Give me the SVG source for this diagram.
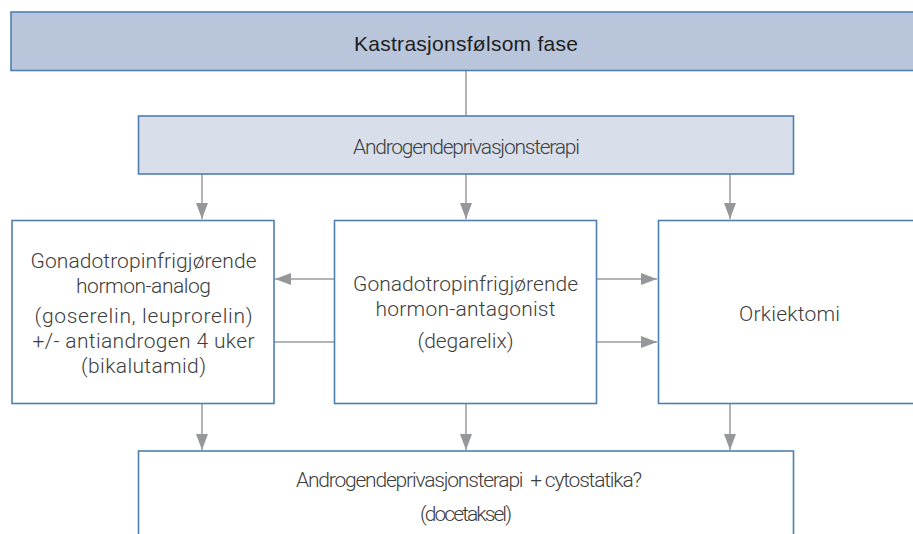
<svg xmlns="http://www.w3.org/2000/svg" width="913" height="534" viewBox="0 0 913 534">
<defs>
<marker id="ah" viewBox="0 0 16 12" refX="16" refY="6" markerWidth="16" markerHeight="12" markerUnits="userSpaceOnUse" orient="auto">
<path d="M0,0 L16,6 L0,12 Z" fill="#96979b"/>
</marker>
<style>
.box{fill:#ffffff;stroke:#4f7fb0;stroke-width:1.6}
.b1{fill:#b9c5da;stroke:#4f7fb0;stroke-width:1.6}
.b2{fill:#d8dfeb;stroke:#4f7fb0;stroke-width:1.6}
.ln{fill:none;stroke:#9a9b9f;stroke-width:1.5}
.t{font-family:Roboto,"Liberation Sans",sans-serif;font-weight:300;font-size:21px;fill:#3d3d3d;text-anchor:middle}
.tt{font-family:"Liberation Sans",Arial,sans-serif;font-weight:400;font-size:21px;fill:#1e1e1e;text-anchor:middle}
</style>
</defs>
<rect width="913" height="534" fill="#ffffff"/>
<g id="connectors">
<line class="ln" x1="466" y1="71" x2="466" y2="116"/>
<line class="ln" x1="202" y1="174" x2="202" y2="219" marker-end="url(#ah)"/>
<line class="ln" x1="466" y1="174" x2="466" y2="219" marker-end="url(#ah)"/>
<line class="ln" x1="730" y1="174" x2="730" y2="219" marker-end="url(#ah)"/>
<line class="ln" x1="334" y1="279" x2="275" y2="279" marker-end="url(#ah)"/>
<line class="ln" x1="274" y1="342" x2="334" y2="342"/>
<line class="ln" x1="597" y1="279" x2="657" y2="279" marker-end="url(#ah)"/>
<line class="ln" x1="597" y1="342" x2="657" y2="342" marker-end="url(#ah)"/>
<line class="ln" x1="202" y1="404" x2="202" y2="450" marker-end="url(#ah)"/>
<line class="ln" x1="466" y1="404" x2="466" y2="450" marker-end="url(#ah)"/>
<line class="ln" x1="730" y1="404" x2="730" y2="450" marker-end="url(#ah)"/>
</g>
<g id="n-kastrasjon">
<rect class="b1" x="11" y="12" width="920" height="58.5"/>
<text class="tt" x="466" y="51" textLength="224">Kastrasjonsfølsom fase</text>
</g>
<g id="n-adt">
<rect class="b2" x="138.5" y="116" width="655" height="58"/>
<text class="t" x="466.5" y="154" textLength="227">Androgendeprivasjonsterapi</text>
</g>
<g id="n-analog">
<rect class="box" x="12" y="220.5" width="262" height="183"/>
<text class="t" x="143.5" y="268" textLength="226">Gonadotropinfrigjørende</text>
<text class="t" x="143.5" y="293" textLength="135">hormon-analog</text>
<text class="t" x="143.5" y="323" textLength="218">(goserelin, leuprorelin)</text>
<text class="t" x="143.5" y="348" textLength="222">+/- antiandrogen 4 uker</text>
<text class="t" x="143.5" y="373" textLength="125">(bikalutamid)</text>
</g>
<g id="n-antagonist">
<rect class="box" x="334.5" y="220.5" width="262" height="183"/>
<text class="t" x="465.5" y="291" textLength="225">Gonadotropinfrigjørende</text>
<text class="t" x="465.5" y="316" textLength="180">hormon-antagonist</text>
<text class="t" x="465.5" y="348" textLength="96">(degarelix)</text>
</g>
<g id="n-orkiektomi">
<rect class="box" x="658.5" y="220.5" width="262" height="183"/>
<text class="t" x="789.5" y="321" textLength="101">Orkiektomi</text>
</g>
<g id="n-cyto">
<rect class="box" x="138.5" y="451" width="655" height="100"/>
<text class="t" x="469" y="487" textLength="346" xml:space="preserve">Androgendeprivasjonsterapi  + cytostatika?</text>
<text class="t" x="466" y="521" textLength="92">(docetaksel)</text>
</g>
</svg>
